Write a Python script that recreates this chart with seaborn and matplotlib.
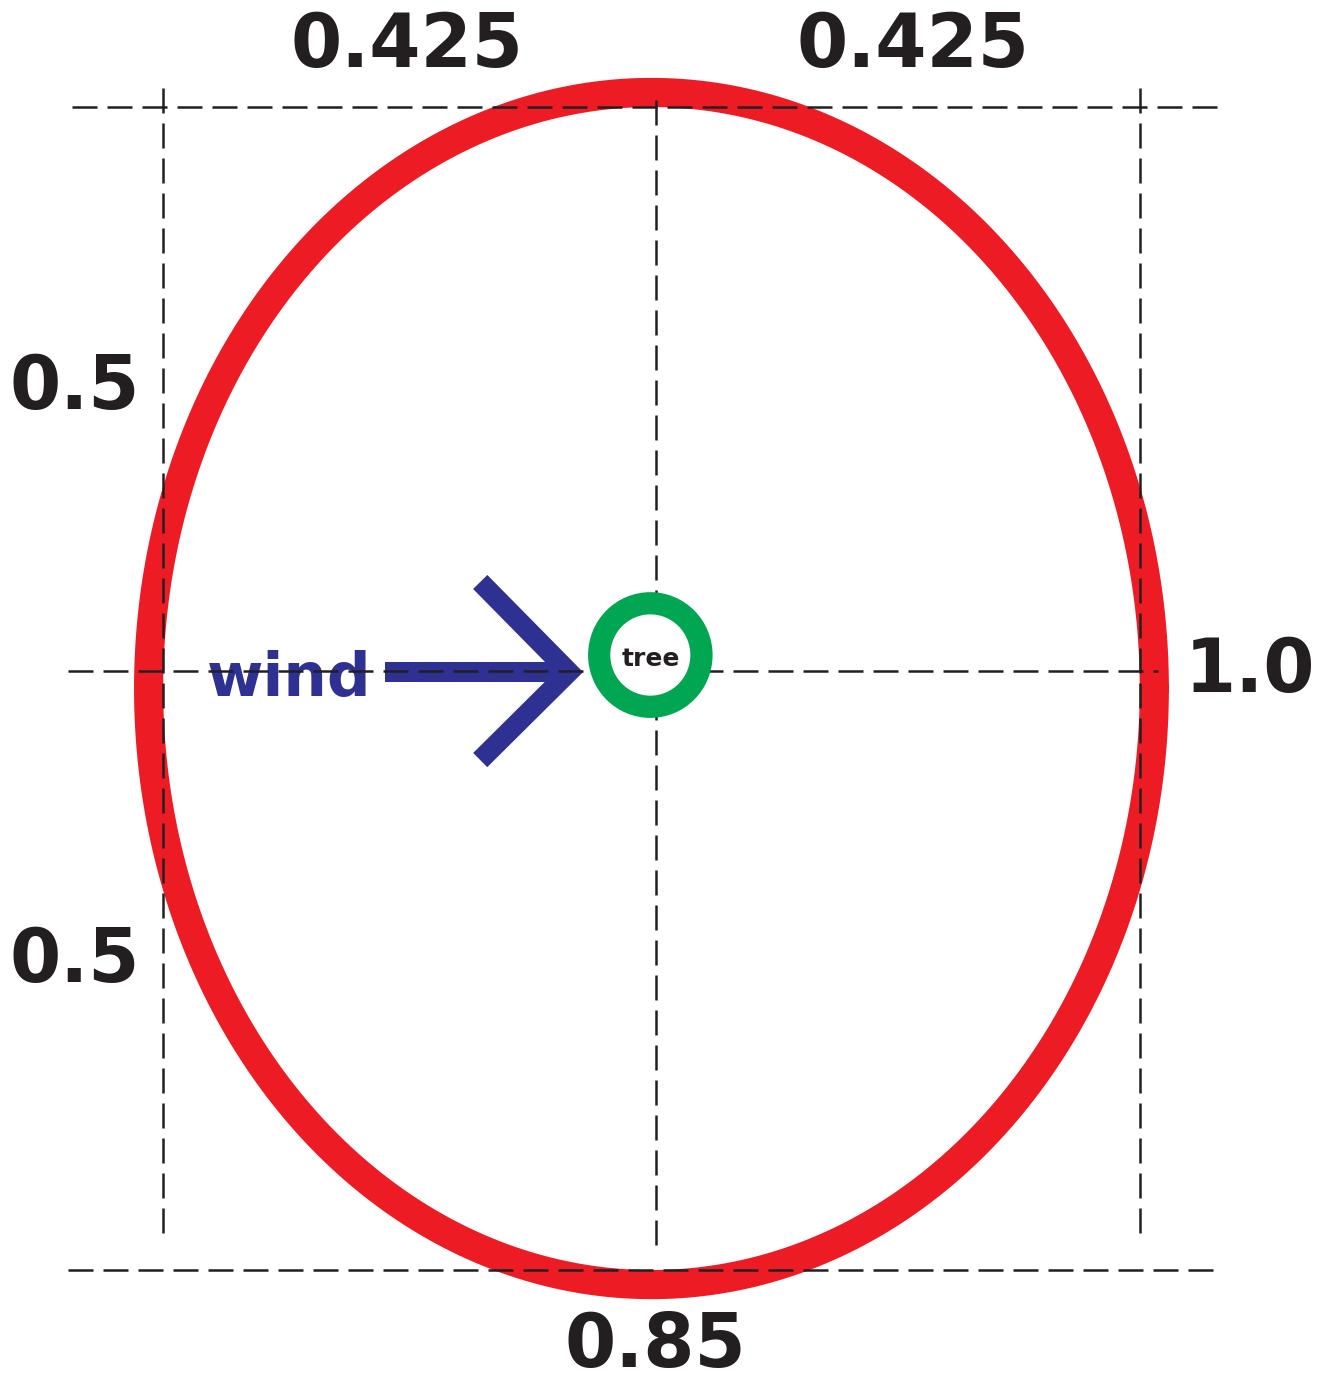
import numpy as np
import pandas as pd
import seaborn as sns
import matplotlib.pyplot as plt
from matplotlib.patches import Circle

# Crown dimensions (relative units) as labelled in the diagram
half_widths = [0.425, 0.425]     # left / right of the tree
half_heights = [0.5, 0.5]        # above / below the tree
total_width = 0.85
total_height = 1.0
width_label = "0.85"
height_label = "1.0"

RED = "#ED1C24"
GREEN = "#00A651"
BLUE = "#2E3192"
INK = "#231F20"

sns.set_theme(style="white")
plt.rcParams["font.family"] = ["DejaVu Sans"]

fig = plt.figure(figsize=(13.28, 13.86), dpi=100)
ax = fig.add_axes([0, 0, 1, 1])
ax.set_axis_off()
ax.set_xlim(-0.5668, 0.5886)
ax.set_ylim(-0.5997, 0.592)

left, right = -half_widths[0], half_widths[1]
top, bottom = half_heights[0], -half_heights[1]

# red crown outline; the stroke sits outside the dashed box
stroke = 0.025
t = np.linspace(0, 2 * np.pi, 400)
crown = pd.DataFrame({
    "x": (total_width + stroke) / 2 * np.cos(t),
    "y": (total_height + stroke) / 2 * np.sin(t),
})
sns.lineplot(data=crown, x="x", y="y", sort=False, estimator=None, ax=ax,
             color=RED, linewidth=21, zorder=2, solid_capstyle="round")

# dashed reference lines
mid_y = 0.015
dash = dict(color=INK, linewidth=1.8, dashes=(10, 4), zorder=5)
ax.plot([left - 0.079, right + 0.07], [top, top], **dash)
ax.plot([left - 0.083, right + 0.065], [bottom, bottom], **dash)
ax.plot([left - 0.083, right + 0.016], [mid_y, mid_y], **dash)
ax.plot([left, left], [top + 0.016, bottom + 0.026], **dash)
ax.plot([right, right], [top + 0.016, bottom + 0.026], **dash)
ax.plot([0.004, 0.004], [top + 0.006, bottom + 0.015], **dash)

# wind arrow
shaft_y = 0.0142
tip_x = -0.0718
ax.plot([-0.232, tip_x], [shaft_y, shaft_y], color=BLUE, linewidth=14.4,
        solid_capstyle="butt", zorder=3)
ax.plot([-0.149, tip_x, -0.149], [0.0916, shaft_y, -0.0615], color=BLUE,
        linewidth=14.4, solid_capstyle="butt", solid_joinstyle="miter", zorder=3)
ax.text(-0.315, -0.0064, "wind", color=BLUE, fontsize=44, fontweight="bold",
        ha="center", va="baseline", zorder=4)

# tree
ax.add_patch(Circle((-0.001, 0.0288), 0.0445, facecolor="white", edgecolor=GREEN,
                    linewidth=16, zorder=6))
ax.text(-0.001, 0.0258, "tree", color=INK, fontsize=18, fontweight="bold",
        ha="center", va="center", zorder=7)

# dimension labels
lab = dict(color=INK, fontsize=53, fontweight="bold", ha="center", va="center", zorder=4)
ax.text(left / 2, 0.5516, f"{half_widths[0]}", **lab)
ax.text(right / 2 + 0.015, 0.5516, f"{half_widths[1]}", **lab)
ax.text(-0.5016, top / 2 + 0.008, f"{half_heights[0]}", **lab)
ax.text(-0.5016, bottom / 2 + 0.015, f"{half_heights[1]}", **lab)
ax.text(0.5207, mid_y, height_label, **lab)
ax.text(0.003, -0.566, width_label, **lab)

fig.savefig("out.png", dpi=100, facecolor="white")
